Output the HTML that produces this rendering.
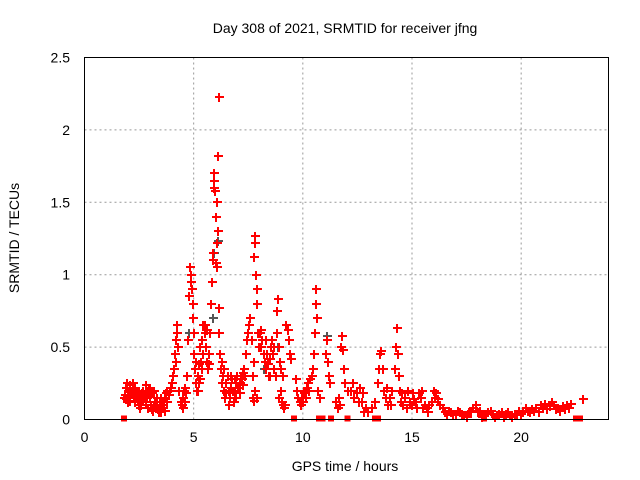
<!DOCTYPE html>
<html><head><meta charset="utf-8"><style>
body{margin:0;background:#fff;}
svg{display:block;font-family:"Liberation Sans",sans-serif;}
</style></head><body>
<svg id="chart" width="640" height="480">
<text x="345" y="33" font-size="14" text-anchor="middle">Day 308 of 2021, SRMTID for receiver jfng</text>
<text x="345" y="471" font-size="14" text-anchor="middle">GPS time / hours</text>
<text transform="translate(19,238) rotate(-90)" font-size="14" text-anchor="middle">SRMTID / TECUs</text>
<g id="grid"></g><g id="ticks"></g><g id="marks" shape-rendering="crispEdges"></g>
<rect x="84.5" y="57.5" width="524" height="362" fill="none" stroke="#000" stroke-width="1"/>
</svg>
<script>
const xTicks=[0,5,10,15,20];
const yTicks=[0,0.5,1,1.5,2,2.5];
const yTickLabels=["0","0.5","1","1.5","2","2.5"];
const zeroHours=[1.8,9.6,10.75,10.9,11.3,12.05,13.3,13.45,18.3,22.5,22.6,22.7];
const greyPoints=[[5.95,1.15],[6.1,1.23],[6.15,0.77],[7.8,0.2],[8.85,0.5],[11.1,0.58],[14.3,0.63],[4.8,0.6],[5.9,0.7],[8.2,0.35]];
const redPoints=[
[1.8,0.15],[1.85,0.17],[1.9,0.22],[1.95,0.25],[2.0,0.2],[2.05,0.16],[2.1,0.13],[2.15,0.18],[2.2,0.2],[2.25,0.15],[2.3,0.12],[2.35,0.17],[2.4,0.2],[2.45,0.14],[2.5,0.1],[2.55,0.08],[2.6,0.13],[2.65,0.18],[2.7,0.2],[2.75,0.16],[2.8,0.12],[2.85,0.15],[2.9,0.2],[2.95,0.22],[3.0,0.16],[3.05,0.1],[3.1,0.07],[3.15,0.06],[3.2,0.09],[3.25,0.12],[3.3,0.1],[3.35,0.07],[3.4,0.08],[3.45,0.12],[3.5,0.15],[3.55,0.1],[3.6,0.08],[3.65,0.12],[3.7,0.15],[3.75,0.18],[3.8,0.2],[3.85,0.17],[3.9,0.2],[3.95,0.22],[4.0,0.25],
[2.0,0.12],[2.3,0.22],[2.6,0.1],[2.9,0.08],[3.2,0.2],[3.5,0.05],[3.7,0.06],[2.2,0.25],[2.8,0.24],[3.1,0.18],
[1.9,0.14],[2.1,0.24],[2.4,0.16],[2.7,0.14],[3.0,0.22],[3.3,0.15],[3.6,0.13],[3.8,0.12],[3.4,0.05],[2.5,0.18],
[4.05,0.3],[4.1,0.35],[4.15,0.45],[4.2,0.55],[4.25,0.65],[4.3,0.5],[4.35,0.2],[4.4,0.12],[4.2,0.4],[4.25,0.6],
[4.45,0.1],[4.5,0.15],[4.55,0.2],[4.6,0.12],[4.65,0.18],[4.7,0.3],[4.75,0.55],[4.8,0.85],[4.5,0.08],[4.6,0.22],
[4.85,1.05],[4.88,1.0],[4.9,0.95],[4.95,0.8],[5.0,0.6],[4.92,0.9],[4.97,0.7],[5.0,0.45],
[5.05,0.35],[5.1,0.25],[5.15,0.2],[5.2,0.3],[5.25,0.38],[5.3,0.28],[5.35,0.4],[5.4,0.55],[5.45,0.65],[5.5,0.6],[5.55,0.5],[5.6,0.4],[5.65,0.35],[5.7,0.45],[5.75,0.6],[5.8,0.8],[5.3,0.5],[5.5,0.65],[5.6,0.62],[5.2,0.2],
[5.1,0.4],[5.25,0.25],[5.4,0.35],[5.55,0.62],[5.7,0.38],[5.45,0.45],
[5.85,0.95],[5.88,1.1],[5.9,1.15],[5.92,1.6],[5.95,1.7],[5.97,1.58],[6.0,1.4],[6.05,1.5],[6.1,1.82],[6.15,2.23],[6.12,1.3],[6.08,1.22],[6.15,0.77],[6.18,0.6],[6.2,0.45],[6.0,1.08],[6.05,1.05],[5.95,1.65],
[6.25,0.35],[6.3,0.25],[6.35,0.3],[6.4,0.2],[6.45,0.15],[6.5,0.25],[6.55,0.3],[6.6,0.2],[6.65,0.15],[6.7,0.22],[6.75,0.28],[6.8,0.2],[6.85,0.12],[6.9,0.18],[6.95,0.25],[7.0,0.3],[7.05,0.22],[7.1,0.25],[7.15,0.3],[7.2,0.28],[7.25,0.32],[7.3,0.35],[7.35,0.3],[6.4,0.35],[6.6,0.1],[6.9,0.28],
[6.3,0.4],[6.5,0.18],[6.7,0.3],[6.95,0.15],[7.1,0.18],[7.25,0.24],
[7.4,0.45],[7.45,0.55],[7.5,0.6],[7.55,0.65],[7.6,0.7],[7.65,0.55],[7.7,0.3],[7.72,0.15],[7.75,0.4],[7.78,1.12],[7.8,1.27],[7.82,1.22],[7.85,1.0],[7.88,0.9],[7.9,0.8],[7.95,0.6],[8.0,0.5],[7.8,0.2],[7.9,0.15],[7.75,0.13],
[8.05,0.6],[8.1,0.62],[8.15,0.55],[8.2,0.45],[8.25,0.4],[8.3,0.35],[8.35,0.45],[8.4,0.38],[8.45,0.3],[8.5,0.42],[8.55,0.5],[8.6,0.55],[8.65,0.45],[8.7,0.35],[8.75,0.3],[8.8,0.6],[8.83,0.75],[8.86,0.83],[8.9,0.5],[8.95,0.4],[9.0,0.2],[9.05,0.12],[9.1,0.1],[9.15,0.08],[9.2,0.1],[9.25,0.65],[9.3,0.62],[9.35,0.55],[9.4,0.45],[9.45,0.42],[8.9,0.15],[9.0,0.35],
[8.1,0.5],[8.3,0.55],[8.5,0.3],[8.7,0.5],[9.1,0.3],
[9.7,0.28],[9.75,0.2],[9.8,0.15],[9.85,0.12],[9.9,0.1],[9.95,0.15],[10.0,0.12],[10.05,0.18],[10.1,0.2],[10.15,0.15],[10.2,0.22],[10.25,0.25],[10.3,0.2],[10.35,0.28],[10.4,0.3],[10.45,0.35],[10.5,0.45],[10.55,0.6],[10.6,0.9],[10.62,0.8],[10.65,0.7],
[10.7,0.2],[10.8,0.15],[11.05,0.45],[11.1,0.55],[11.15,0.4],[11.2,0.3],[11.25,0.25],[11.5,0.12],[11.6,0.08],[11.65,0.15],[11.7,0.1],[11.75,0.5],[11.8,0.58],[11.85,0.48],[11.9,0.35],[11.95,0.25],[12.05,0.2],[12.2,0.2],[12.35,0.15],[12.5,0.18],[12.6,0.22],[12.7,0.12],[12.8,0.05],[12.9,0.08],[13.0,0.05],[13.15,0.08],[13.3,0.12],[13.45,0.25],[13.5,0.35],[13.55,0.45],[13.6,0.47],[13.65,0.35],[13.7,0.2],[13.8,0.15],[13.9,0.1],[14.0,0.15],[14.1,0.2],[14.2,0.35],[14.25,0.5],[14.3,0.63],[14.35,0.45],[14.4,0.3],[14.45,0.2],[14.5,0.12],[14.6,0.1],[14.7,0.15],[14.8,0.2],[14.9,0.12],[15.0,0.1],[15.1,0.14],[15.2,0.12],[15.3,0.18],[15.4,0.15],[15.5,0.08],[15.6,0.1],[15.7,0.08],[15.8,0.1],[15.9,0.12],[16.0,0.2],[16.1,0.18],[16.2,0.14],[16.3,0.1],[16.4,0.08],[16.5,0.05],[16.6,0.04],
[12.3,0.25],[12.55,0.12],[12.75,0.18],[13.85,0.22],[14.05,0.1],[14.55,0.18],[14.75,0.08],[15.05,0.18],[15.25,0.08],[15.45,0.2],[15.75,0.05],[16.05,0.15],
[16.8,0.05],[17.0,0.04],[17.2,0.05],[17.4,0.03],[17.6,0.05],[17.8,0.08],[17.95,0.1],[18.1,0.06],[18.3,0.03],[18.5,0.05],[18.7,0.04],[18.9,0.03],[19.1,0.05],[19.3,0.04],[19.5,0.03],[19.7,0.04],[19.9,0.06],[20.1,0.05],[20.3,0.06],[20.5,0.07],[20.7,0.08],[20.9,0.1],[21.1,0.11],[21.3,0.09],[21.5,0.1],[21.7,0.08],[21.9,0.09],[22.1,0.1],[22.3,0.11],[22.85,0.14],
[16.7,0.06],[16.9,0.03],[17.1,0.06],[17.3,0.04],[17.5,0.02],[17.7,0.06],[18.0,0.05],[18.2,0.02],[18.4,0.04],[18.6,0.06],[18.8,0.02],[19.0,0.04],[19.2,0.02],[19.4,0.05],[19.6,0.02],[19.8,0.03],[20.0,0.04],[20.2,0.08],[20.4,0.05],[20.6,0.06],[20.8,0.05],[21.0,0.08],[21.2,0.07],[21.4,0.12],[21.6,0.07],[21.8,0.06],[22.0,0.07],[22.2,0.08]
];
const svg=document.getElementById('chart');
const NS='http://www.w3.org/2000/svg';
const X0=84.5,X1=608.5,Y0=419.5,Y1=57.5,XMAX=24,YMAX=2.5;
function xs(h){return X0+(X1-X0)*h/XMAX;}
function ys(v){return Y0-(Y0-Y1)*v/YMAX;}
function mk(tag,attrs,parent){const e=document.createElementNS(NS,tag);for(const k in attrs)e.setAttribute(k,attrs[k]);parent.appendChild(e);return e;}
const grid=document.getElementById('grid'),ticks=document.getElementById('ticks'),marks=document.getElementById('marks');
xTicks.forEach(t=>{
  const x=xs(t);
  if(t>0){const g=mk('line',{x1:x,x2:x,y1:Y0,y2:Y1,stroke:'#999','stroke-dasharray':'2,3'},grid);
  
  }
  const l=mk('text',{x:x,y:442,'font-size':14,'text-anchor':'middle'},ticks);
  l.textContent=t;
  
  
});
yTicks.forEach((t,i)=>{
  const y=ys(t);
  if(t>0&&t<YMAX){const g=mk('line',{x1:X0,x2:X1,y1:y,y2:y,stroke:'#999','stroke-dasharray':'2,3'},grid);
  
  }
  const l=mk('text',{x:70,y:y+5,'font-size':14,'text-anchor':'end'},ticks);
  l.textContent=yTickLabels[i];
  
  
});
function plus(h,v,col,name){
  const x=Math.round(xs(h)),y=Math.round(ys(v));
  const p=mk('path',{d:`M${x-4},${y}h9M${x},${y-4}v9`,stroke:col,'stroke-width':1.6,fill:'none'},marks);
  
  
}
greyPoints.forEach(p=>plus(p[0],p[1],'#555','grey-point'));
redPoints.forEach(p=>plus(p[0],p[1],'#f00','srmtid-point'));
zeroHours.forEach(h=>{
  const r=mk('rect',{x:xs(h)-3,y:ys(0)-4,width:6,height:6,fill:'#f00'},marks);
  
  
});
</script>
</body></html>
